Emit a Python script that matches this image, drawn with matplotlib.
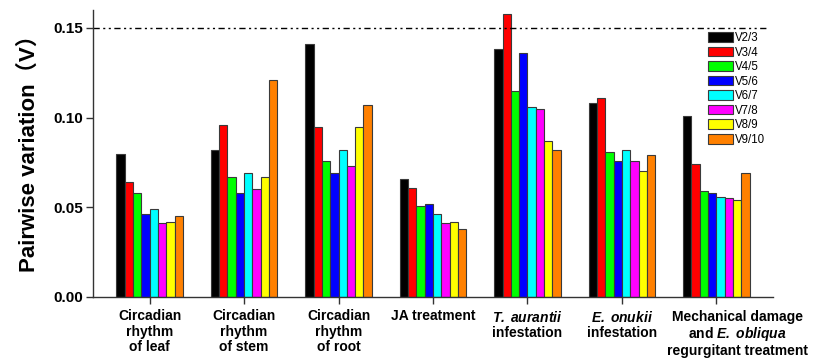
import matplotlib
matplotlib.use("Agg")
import matplotlib.pyplot as plt
import matplotlib.transforms as mtransforms
import numpy as np

plt.rcParams["font.family"] = ["Liberation Sans", "Noto Sans CJK SC", "DejaVu Sans"]
plt.rcParams["mathtext.fontset"] = "custom"
plt.rcParams["mathtext.rm"] = "Liberation Sans:bold"
plt.rcParams["mathtext.bf"] = "Liberation Sans:bold"
plt.rcParams["mathtext.it"] = "Liberation Sans:bold:italic"
plt.rcParams["mathtext.bfit"] = "Liberation Sans:bold:italic"

categories = [
    "Circadian\nrhythm\nof leaf",
    "Circadian\nrhythm\nof stem",
    "Circadian\nrhythm\nof root",
    "JA treatment",
    "$\\mathbfit{T.\\;aurantii}$\ninfestation",
    "$\\mathbfit{E.\\;onukii}$\ninfestation",
    "Mechanical damage\nand $\\mathbfit{E.\\;obliqua}$\nregurgitant treatment",
]
series_names = ["V2/3", "V3/4", "V4/5", "V5/6", "V6/7", "V7/8", "V8/9", "V9/10"]
colors = ["#000000", "#ff0000", "#00ff00", "#0000ff", "#00ffff", "#ff00ff", "#ffff00", "#ff8000"]

# one list per series, values for each category
v23 = [0.080, 0.082, 0.141, 0.066, 0.138, 0.108, 0.101]
v34 = [0.064, 0.096, 0.095, 0.061, 0.158, 0.111, 0.074]
v45 = [0.058, 0.067, 0.076, 0.051, 0.115, 0.081, 0.059]
v56 = [0.046, 0.058, 0.069, 0.052, 0.136, 0.076, 0.058]
v67 = [0.049, 0.069, 0.082, 0.046, 0.106, 0.082, 0.056]
v78 = [0.041, 0.060, 0.073, 0.041, 0.105, 0.076, 0.055]
v89 = [0.042, 0.067, 0.095, 0.042, 0.087, 0.070, 0.054]
v910 = [0.045, 0.121, 0.107, 0.038, 0.082, 0.079, 0.069]
series = [v23, v34, v45, v56, v67, v78, v89, v910]

cutoff = 0.15

fig = plt.figure(figsize=(8.14, 3.59), dpi=100)
ax = fig.add_axes([93 / 814, 1 - 297 / 359, 680 / 814, 287 / 359])

x = np.arange(len(categories))
w = 0.088
for i, (name, vals) in enumerate(zip(series_names, series)):
    off = (i - 3.5) * w
    ax.bar(x + off, vals, width=w, color=colors[i], edgecolor="#3a3a3a",
           linewidth=0.8, label=name)

ax.axhline(cutoff, xmin=0, xmax=(768 - 93) / 680, color="black", lw=1.0,
           dashes=(4.5, 2.5, 1.5, 2.5, 1.5, 2.5))

ax.set_xlim(-0.6, 6.6)
ax.set_ylim(0, 0.16)
ax.set_yticks([0.00, 0.05, 0.10, 0.15])
ax.set_yticklabels(["0.00", "0.05", "0.10", "0.15"], fontsize=11, fontweight="bold")
ax.set_xticks(x)
ax.set_xticklabels(categories, fontsize=10, fontweight="bold", linespacing=1.12)
ax.tick_params(axis="both", direction="out", length=5, width=1, color="#333333")
ax.tick_params(axis="x", pad=4)
ax.tick_params(axis="y", pad=2)

# last label sits to the right of its tick in the original
lbl = ax.get_xticklabels()[-1]
lbl.set_transform(lbl.get_transform() +
                  mtransforms.ScaledTranslation(21 / 100, 0, fig.dpi_scale_trans))

for s in ("top", "right"):
    ax.spines[s].set_visible(False)
for s in ("left", "bottom"):
    ax.spines[s].set_color("#333333")
    ax.spines[s].set_linewidth(1.0)

ax.set_ylabel("Pairwise variation（V）", fontsize=16, fontweight="bold")
ax.yaxis.set_label_coords(-0.078, 0.52)

leg = ax.legend(loc="upper left", bbox_to_anchor=(708 / 814, 1 - 32 / 359),
                bbox_transform=fig.transFigure, frameon=False, fontsize=8.3,
                handlelength=2.15, handleheight=0.9, handletextpad=0.15,
                labelspacing=0.22, borderpad=0, borderaxespad=0)

fig.savefig("out.png", dpi=100)
